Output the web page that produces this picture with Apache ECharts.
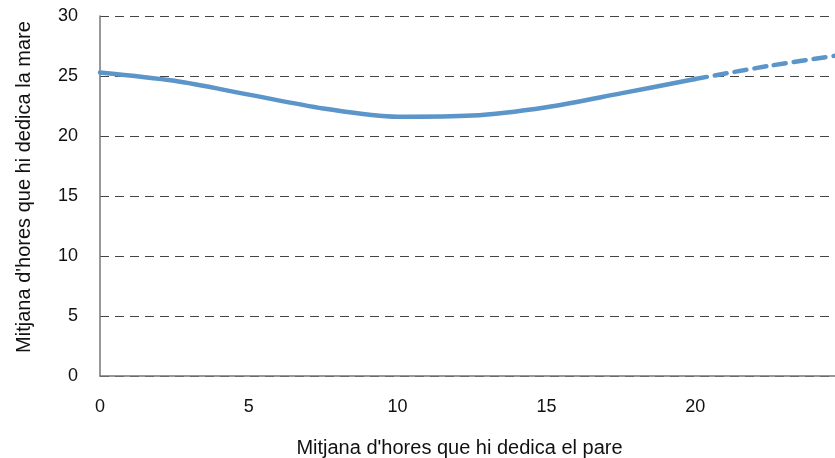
<!DOCTYPE html>
<html>
<head>
<meta charset="utf-8">
<script src="https://cdn.jsdelivr.net/npm/echarts@6/dist/echarts.min.js"></script>
<style>html,body{margin:0;padding:0;background:#fff}#c{width:835px;height:458px}</style>
</head>
<body>
<div id="c"></div>
<script>
const xLabel = "Mitjana d'hores que hi dedica el pare";
const yLabel = "Mitjana d'hores que hi dedica la mare";
const solidX = [0, 2.5, 5, 7.5, 10, 12.5, 15, 17.5, 20];
const solidY = [25.3, 24.6, 23.45, 22.3, 21.6, 21.7, 22.4, 23.55, 24.75];
const dashX = [20, 22.5, 25];
const dashY = [24.75, 25.85, 26.8];

const chart = echarts.init(document.getElementById('c'));
const font = '"Liberation Sans", Arial, sans-serif';
chart.setOption({
  animation: false,
  grid: {left: 100, right: -9, top: 16, bottom: 82, outerBoundsMode: 'none', containLabel: false},
  xAxis: {
    type: 'value', min: 0, max: 25, interval: 5,
    name: xLabel, nameLocation: 'middle', nameGap: 62,
    nameTextStyle: {fontFamily: font, fontSize: 20, color: '#111', padding: [0, 25, 0, 0]},
    axisLine: {show: true, lineStyle: {color: '#777', width: 1.5}},
    axisTick: {show: false},
    axisLabel: {fontFamily: font, fontSize: 18, color: '#111', margin: 22,
      formatter: v => v >= 25 ? '' : String(v)},
    splitLine: {show: false}
  },
  yAxis: {
    type: 'value', min: 0, max: 30, interval: 5,
    name: yLabel, nameLocation: 'middle', nameGap: 66,
    nameTextStyle: {fontFamily: font, fontSize: 20, color: '#111', padding: [0, 0, 0, 18]},
    axisLine: {show: true, lineStyle: {color: '#777', width: 1.5}},
    axisTick: {show: false},
    axisLabel: {fontFamily: font, fontSize: 18, color: '#111', margin: 22},
    splitLine: {show: true, lineStyle: {color: '#444', type: [9, 6], width: 1}}
  },
  series: [
    {type: 'line', data: solidX.map((x, i) => [x, solidY[i]]), smooth: 0.3, showSymbol: false,
     lineStyle: {color: '#5b95c9', width: 4.5, cap: 'round'}},
    {type: 'line', data: dashX.map((x, i) => [x, dashY[i]]), smooth: 0.3, showSymbol: false,
     lineStyle: {color: '#5b95c9', width: 4.5, type: [12, 8], cap: 'round'}}
  ]
});
</script>
</body>
</html>
